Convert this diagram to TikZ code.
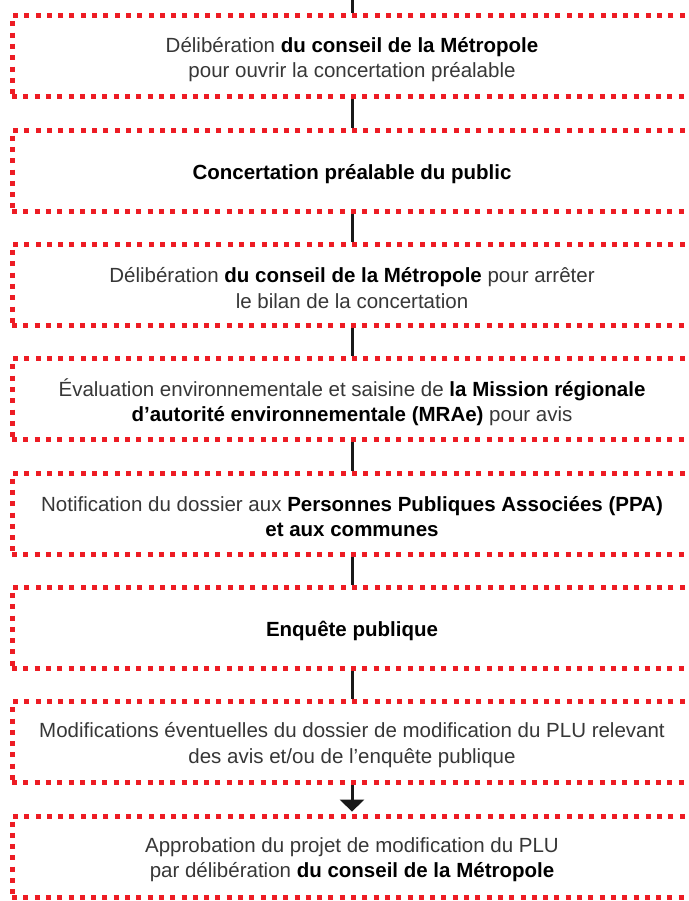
\documentclass[tikz,border=0pt]{standalone}
\usepackage{fontspec}
\setmainfont{Liberation Sans}
\usetikzlibrary{arrows.meta}
\definecolor{dotred}{RGB}{237,28,36}
\definecolor{txt}{RGB}{55,55,55}
\newcommand\bfx[1]{\textbf{\color{black}#1}}
\begin{document}
\begin{tikzpicture}[x=1pt,y=-1pt,
  stepbox/.style={draw=dotred, line width=5pt, dash pattern=on 5pt off 6.3pt,
    minimum width=680pt, minimum height=81pt, inner sep=0pt},
  steptext/.style={inner sep=0pt, align=center, yshift=-3pt,
    font=\fontsize{20.5}{25.5}\selectfont, text=txt},
  conn/.style={draw=black!90, line width=3pt}]
\clip (0,0) rectangle (688,901);
\fill[white] (0,0) rectangle (688,901);
\coordinate (top) at (352,0);
\node[stepbox] (b1) at (352,56.5) {};
\node[stepbox] (b2) at (352,170.8) {};
\node[stepbox] (b3) at (352,285.1) {};
\node[stepbox] (b4) at (352,399.4) {};
\node[stepbox] (b5) at (352,513.7) {};
\node[stepbox] (b6) at (352,628.0) {};
\node[stepbox] (b7) at (352,742.3) {};
\node[stepbox] (b8) at (352,856.6) {};
\node[steptext] (t1) at (b1.center) {Délibération \bfx{du conseil de la Métropole}\\pour ouvrir la concertation préalable};
\node[steptext] (t2) at (b2.center) {\bfx{Concertation préalable du public}};
\node[steptext] (t3) at (b3.center) {Délibération \bfx{du conseil de la Métropole} pour arrêter\\le bilan de la concertation};
\node[steptext] (t4) at (b4.center) {Évaluation environnementale et saisine de \bfx{la Mission régionale}\\\bfx{d’autorité environnementale (MRAe)} pour avis};
\node[steptext] (t5) at (b5.center) {Notification du dossier aux \bfx{Personnes Publiques Associées (PPA)}\\\bfx{et aux communes}};
\node[steptext] (t6) at (b6.center) {\bfx{Enquête publique}};
\node[steptext] (t7) at (b7.center) {Modifications éventuelles du dossier de modification du PLU relevant\\des avis et/ou de l’enquête publique};
\node[steptext] (t8) at (b8.center) {Approbation du projet de modification du PLU\\par délibération \bfx{du conseil de la Métropole}};
\draw[conn] (top) -- (b1.north);
\draw[conn] (b1.south) -- (b2.north);
\draw[conn] (b2.south) -- (b3.north);
\draw[conn] (b3.south) -- (b4.north);
\draw[conn] (b4.south) -- (b5.north);
\draw[conn] (b5.south) -- (b6.north);
\draw[conn] (b6.south) -- (b7.north);
\draw[conn, -{Triangle[width=24pt,length=12pt]}, shorten >=2pt] (b7.south) -- (b8.north);
\end{tikzpicture}
\end{document}
